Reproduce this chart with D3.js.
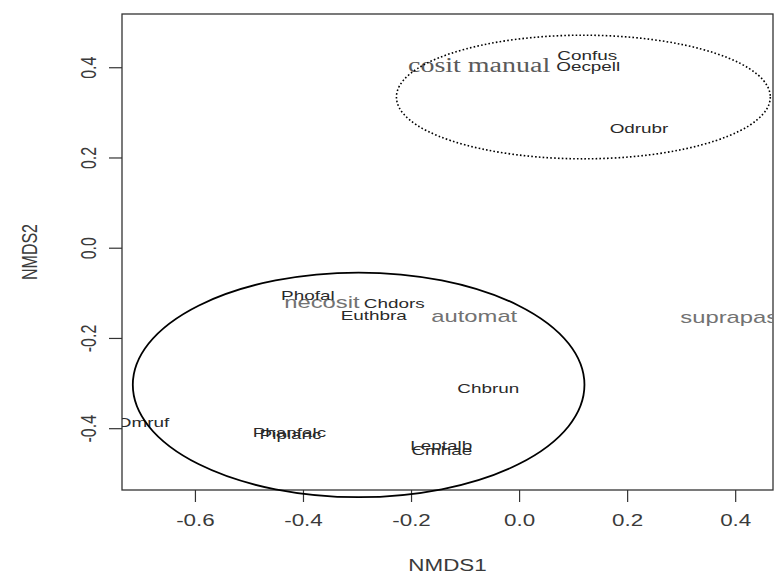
<!DOCTYPE html>
<html>
<head>
<meta charset="utf-8">
<script src="https://cdn.jsdelivr.net/npm/d3@7"></script>
<style>
  body { margin: 0; background: #fff; }
  svg { display: block; }
  text { font-family: "Liberation Sans", Arial, sans-serif; }
</style>
</head>
<body>
<div id="chart"></div>
<script>
// species scores (NMDS1, NMDS2)
const speciesNames = ['Confus', 'Oecpell', 'Odrubr', 'Phofal', 'Chdors', 'Euthbra', 'Chbrun',
                      'Omruf', 'Piplanc', 'Phanfalc', 'Leptalb', 'Cmhae'];
const speciesX = [0.126, 0.128, 0.222, -0.391, -0.231, -0.269, -0.057, -0.696, -0.423, -0.425, -0.144, -0.143];
const speciesY = [0.427, 0.402, 0.265, -0.105, -0.123, -0.150, -0.312, -0.387, -0.412, -0.409, -0.438, -0.449];

// site scores
const siteNames = ['cosit manual', 'necosit', 'automat', 'suprapas'];
const siteX = [-0.074, -0.365, -0.083, 0.389];
const siteY = [0.405, -0.121, -0.150, -0.154];
const siteSerif = [true, false, false, false];

// group ellipses: centre, radii
const ellipseCx = [0.119, -0.297];
const ellipseCy = [0.334, -0.304];
const ellipseRx = [0.346, 0.418];
const ellipseRy = [0.137, 0.249];
const ellipseDash = ['1.6,2.2', null];

const xTicks = [-0.6, -0.4, -0.2, 0.0, 0.2, 0.4];
const yTicks = [-0.4, -0.2, 0.0, 0.2, 0.4];

const width = 776, height = 583;
const margin = {top: 14, right: 3, bottom: 93, left: 122};
const stretch = 1.4; // picture is wider than tall text

const svg = d3.select('#chart').append('svg')
    .attr('width', width)
    .attr('height', height);

const x = d3.scaleLinear().domain([-0.735, 0.470]).range([margin.left, width - margin.right]);
const y = d3.scaleLinear().domain([-0.537, 0.518]).range([height - margin.bottom, margin.top]);

svg.append('defs').append('clipPath').attr('id', 'plotclip')
  .append('rect')
    .attr('x', x.range()[0]).attr('y', y.range()[1])
    .attr('width', x.range()[1] - x.range()[0])
    .attr('height', y.range()[0] - y.range()[1]);

// axes
const fmt = d => d3.format('.1f')(d).replace('−', '-');
const xAxis = d3.axisBottom(x).tickValues(xTicks).tickSize(12).tickFormat(fmt);
const yAxis = d3.axisLeft(y).tickValues(yTicks).tickSize(13).tickFormat(fmt);

const gx = svg.append('g')
    .attr('transform', `translate(0,${y.range()[0]})`)
    .call(xAxis);
gx.select('.domain').remove();
gx.selectAll('.tick line').attr('stroke', '#333').attr('stroke-width', 1.2);
gx.selectAll('.tick text')
    .attr('y', 0).attr('dy', null)
    .attr('transform', `translate(0,30) scale(${stretch},1)`)
    .attr('dominant-baseline', 'central')
    .attr('fill', '#3a3a3a')
    .style('font-size', '16px');

const gy = svg.append('g')
    .attr('transform', `translate(${x.range()[0]},0)`)
    .call(yAxis);
gy.select('.domain').remove();
gy.selectAll('.tick line').attr('stroke', '#333').attr('stroke-width', 1.2);
gy.selectAll('.tick text')
    .attr('x', 0).attr('dy', null)
    .attr('transform', `translate(-34,0) scale(${stretch},1) rotate(-90)`)
    .attr('text-anchor', 'middle')
    .attr('dominant-baseline', 'central')
    .attr('fill', '#3a3a3a')
    .style('font-size', '16px');

// plot box
svg.append('rect')
    .attr('x', x.range()[0]).attr('y', y.range()[1])
    .attr('width', x.range()[1] - x.range()[0])
    .attr('height', y.range()[0] - y.range()[1])
    .attr('fill', 'none')
    .attr('stroke', '#333')
    .attr('stroke-width', 1.3);

// axis titles
svg.append('text')
    .attr('transform', `translate(${(x.range()[0] + x.range()[1]) / 2},565) scale(${stretch},1)`)
    .attr('text-anchor', 'middle')
    .attr('dominant-baseline', 'central')
    .attr('fill', '#3a3a3a')
    .style('font-size', '16px')
    .text('NMDS1');

svg.append('text')
    .attr('transform', `translate(29,${(y.range()[0] + y.range()[1]) / 2}) scale(${stretch},1) rotate(-90)`)
    .attr('text-anchor', 'middle')
    .attr('dominant-baseline', 'central')
    .attr('fill', '#3a3a3a')
    .style('font-size', '16px')
    .text('NMDS2');

const labels = svg.append('g').attr('clip-path', 'url(#plotclip)');

// site labels
labels.selectAll('.site')
    .data(siteNames)
  .join('text')
    .attr('class', 'site')
    .attr('transform', (d, i) => `translate(${x(siteX[i])},${y(siteY[i])}) scale(${stretch},1)`)
    .attr('text-anchor', 'middle')
    .attr('dominant-baseline', 'central')
    .attr('fill', (d, i) => siteSerif[i] ? '#5a5a5a' : '#727272')
    .style('font-family', (d, i) => siteSerif[i] ? '"Liberation Serif", "Times New Roman", serif' : null)
    .style('font-size', (d, i) => siteSerif[i] ? '20px' : '17px')
    .text(d => d);

// species labels
labels.selectAll('.species')
    .data(speciesNames)
  .join('text')
    .attr('class', 'species')
    .attr('transform', (d, i) => `translate(${x(speciesX[i])},${y(speciesY[i])}) scale(${stretch},1)`)
    .attr('text-anchor', 'middle')
    .attr('dominant-baseline', 'central')
    .attr('fill', '#2a2a2a')
    .style('font-size', '13.5px')
    .text(d => d);

// group ellipses
svg.selectAll('.hull')
    .data(ellipseCx)
  .join('ellipse')
    .attr('class', 'hull')
    .attr('cx', d => x(d))
    .attr('cy', (d, i) => y(ellipseCy[i]))
    .attr('rx', (d, i) => x(ellipseRx[i]) - x(0))
    .attr('ry', (d, i) => y(0) - y(ellipseRy[i]))
    .attr('fill', 'none')
    .attr('stroke', '#000')
    .attr('stroke-width', (d, i) => ellipseDash[i] ? 1.6 : 1.8)
    .attr('stroke-dasharray', (d, i) => ellipseDash[i]);
</script>
</body>
</html>
